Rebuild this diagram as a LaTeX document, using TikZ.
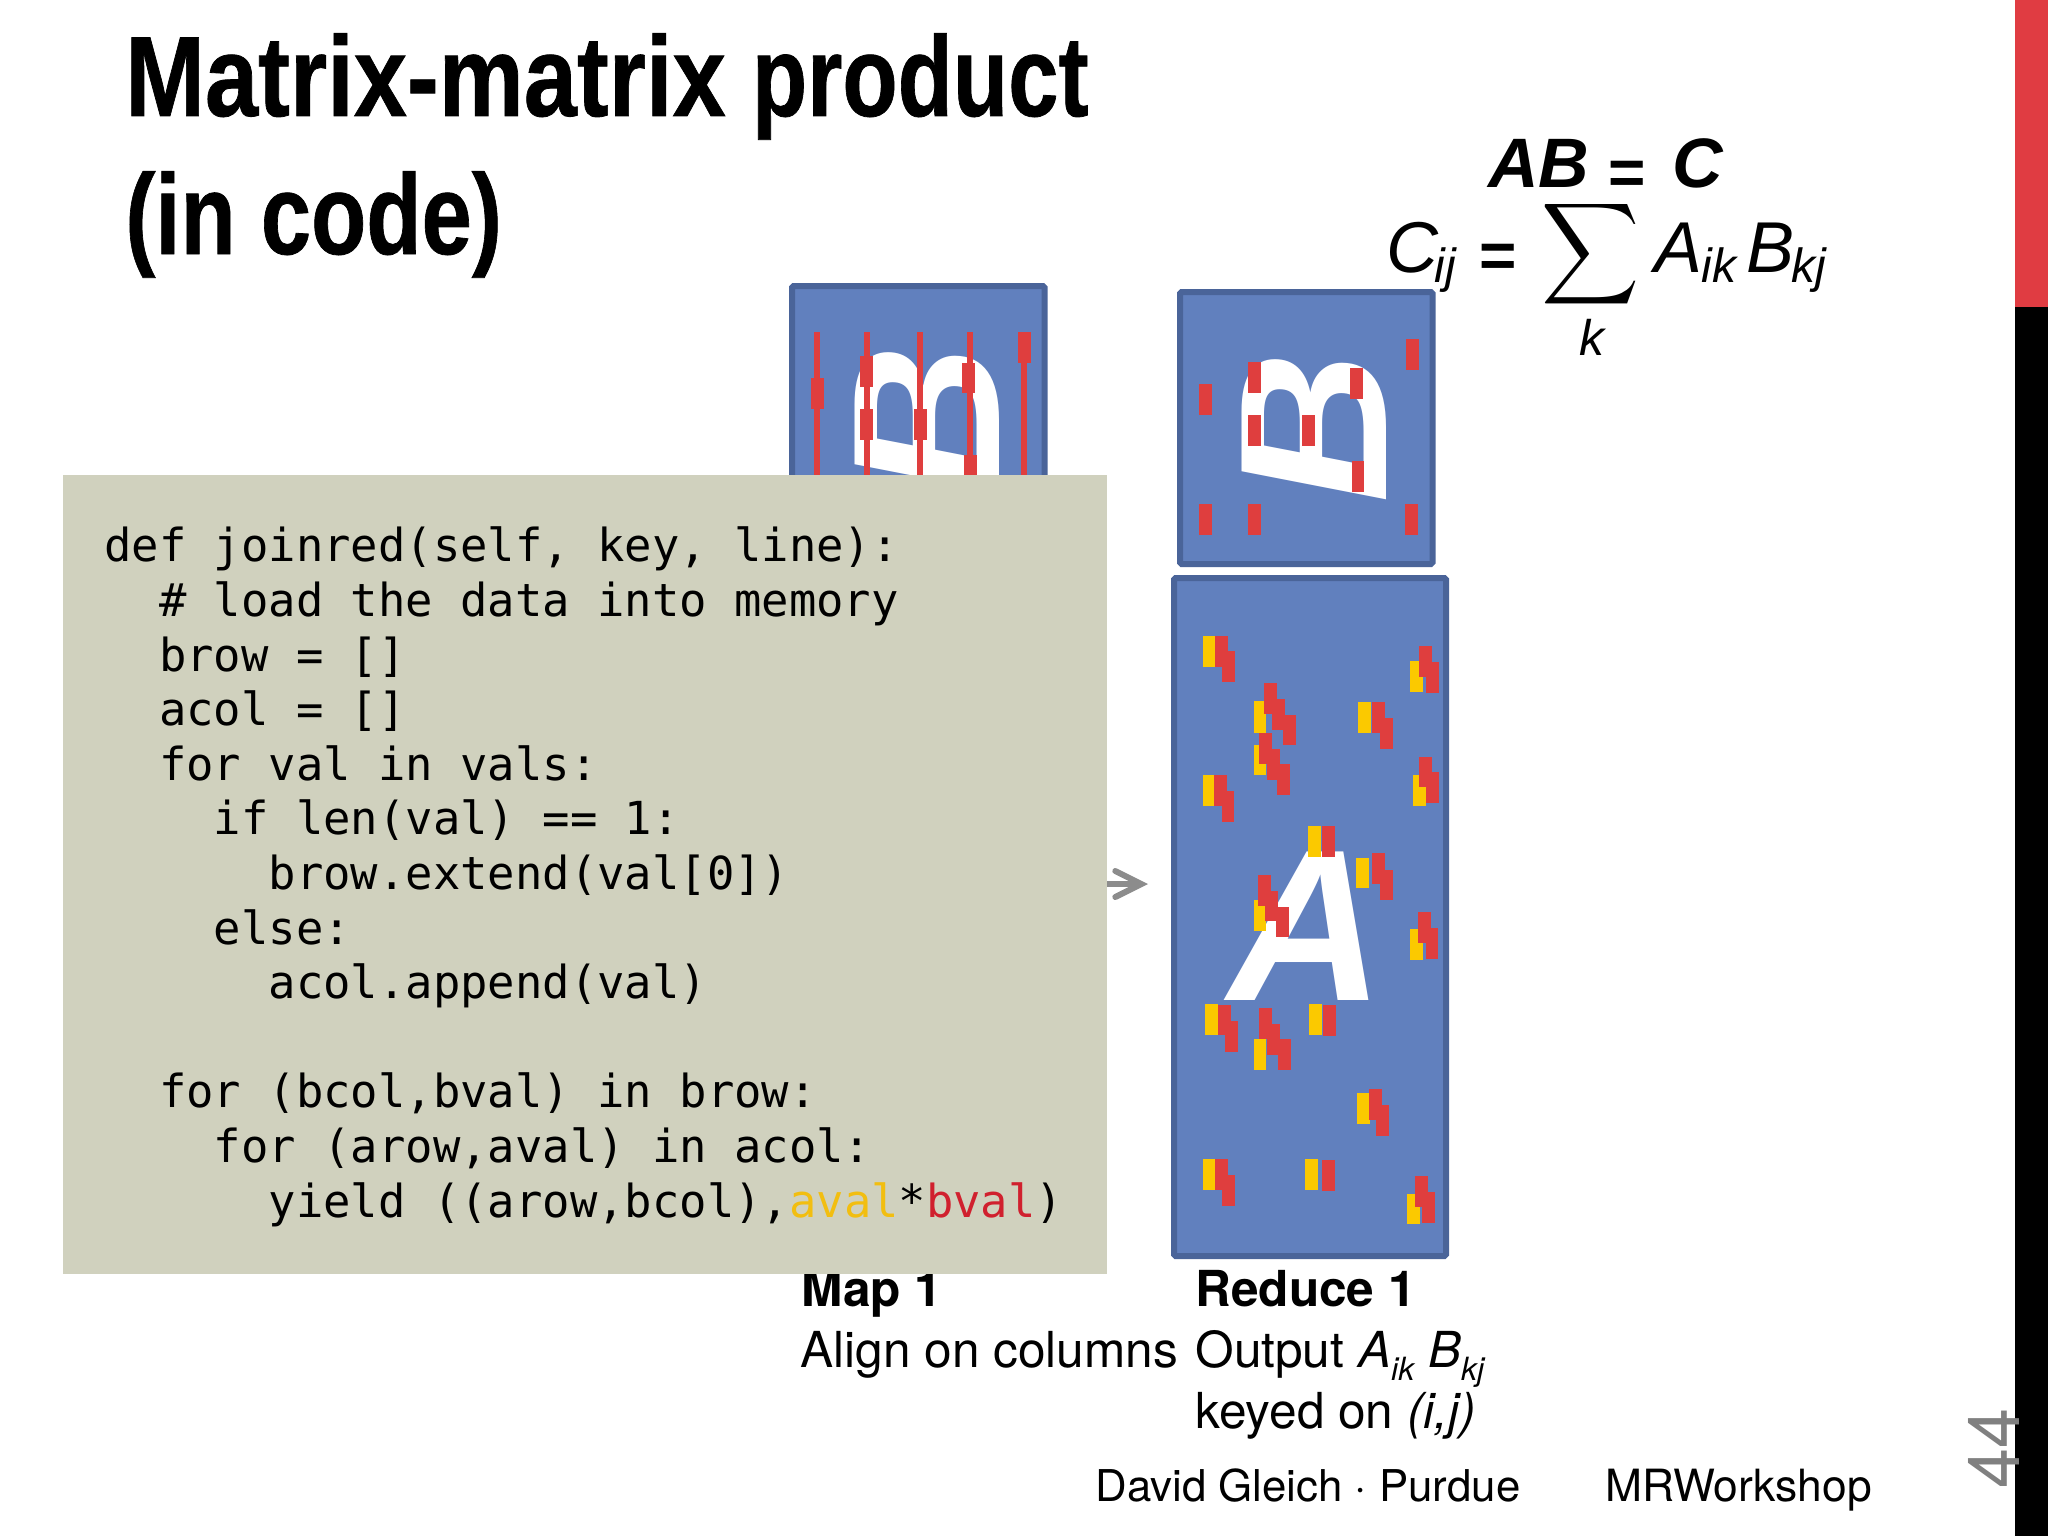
\documentclass[tikz,border=0pt]{standalone}
\usepackage{fontspec}
\usetikzlibrary{arrows.meta}
\setmainfont{TeX Gyre Heros}
\setmonofont{DejaVu Sans Mono}
\newfontfamily\arialfont{Liberation Sans}
\newfontfamily\titlefont[BoldFeatures={FakeBold=0.7}]{Liberation Sans}
\definecolor{boxblue}{HTML}{6180BE}
\definecolor{boxedge}{HTML}{4A6499}
\definecolor{codegray}{HTML}{D0D1BE}
\definecolor{markred}{HTML}{DF3E3E}
\definecolor{markyellow}{HTML}{FBC900}
\definecolor{barred}{HTML}{E03C42}
\definecolor{codeyellow}{HTML}{F2BE10}
\definecolor{codered}{HTML}{D0202E}
\tikzset{
  matbox/.style={draw=boxedge,fill=boxblue,line width=3pt,rounded corners=0.8pt},
  lbl/.style={anchor=base west,inner sep=0pt,font=\fontsize{24.8}{29}\selectfont},
  lblb/.style={anchor=base west,inner sep=0pt,font=\bfseries\fontsize{24.8}{29}\selectfont},
  foot/.style={anchor=base west,inner sep=0pt,font=\fontsize{21.9}{25}\selectfont},
  titletext/.style={anchor=base west,inner sep=0pt,font=\titlefont\bfseries\fontsize{57}{60}\selectfont},
  bigletter/.style={inner sep=0pt,text=white,font=\arialfont\bfseries\itshape\fontsize{105}{105}\selectfont},
  mathi/.style={anchor=base west,inner sep=0pt,font=\arialfont\itshape\fontsize{36}{40}\selectfont},
  mathsub/.style={anchor=base west,inner sep=0pt,font=\arialfont\itshape\fontsize{24}{28}\selectfont},
  mathb/.style={anchor=base west,inner sep=0pt,font=\arialfont\bfseries\itshape\fontsize{35}{40}\selectfont},
  matheq/.style={anchor=base west,inner sep=0pt,font=\arialfont\bfseries\fontsize{32}{40}\selectfont},
}
\newcommand{\Rr}[4]{\fill[markred] (#1,#2) rectangle (#3,#4);}
\newcommand{\Yy}[4]{\fill[markyellow] (#1,#2) rectangle (#3,#4);}
\begin{document}
\begin{tikzpicture}[x=0.5pt,y=-0.5pt]
\useasboundingbox (0,0) rectangle (2048,1536);
\fill[white] (0,0) rectangle (2048,1536);

% title
\node[titletext,xscale=0.824] (t1) at (125,116) {\scalebox{1.018}[1]{Matrix-matrix} \scalebox{0.963}[1]{product}};
\node[titletext,xscale=0.793] (t2) at (125,254) {(in code)};

% matrices
\draw[matbox] (792,286) rectangle (1044.5,1200);
\node[bigletter,rotate=90] (bleft) at (927.5,421) {B};
\begin{scope}[shift={(760,260)},x=0.2232pt,y=-0.1667pt]
  \foreach \xx in {128,239,358,470,592} {\fill[markred] (\xx-7,217) rectangle (\xx+7,700);}
  \Rr{114}{355}{143}{447}\Rr{225}{288}{254}{380}\Rr{225}{447}{254}{540}
  \Rr{346}{447}{375}{540}\Rr{453}{308}{482}{400}\Rr{456}{585}{485}{700}\Rr{578}{217}{607}{310}
\end{scope}

\draw[matbox] (1180,292) rectangle (1432.5,564);
\node[bigletter,rotate=90] (bright) at (1314.5,427.5) {B};
\begin{scope}[shift={(760,260)},x=0.2232pt,y=-0.1667pt]
  \Rr{983}{372}{1012}{466}\Rr{1094}{306}{1123}{398}\Rr{1094}{465}{1123}{558}
  \Rr{1215}{465}{1244}{558}\Rr{1322}{325}{1351}{418}\Rr{1325}{604}{1354}{697}
  \Rr{1447}{236}{1476}{329}\Rr{983}{732}{1012}{825}\Rr{1094}{732}{1123}{825}\Rr{1444}{732}{1473}{825}
\end{scope}

\draw[matbox] (1174,578) rectangle (1446,1256);
\node[bigletter,font=\arialfont\bfseries\itshape\fontsize{108}{108}\selectfont] (aletter) at (1306,926) {A};
\begin{scope}[shift={(1100,560)},x=0.1667pt,y=-0.2296pt]
  \Yy{308}{165}{345}{232}\Rr{345}{165}{383}{232}\Rr{367}{199}{405}{266}
  \Yy{930}{220}{968}{287}\Rr{956}{187}{995}{254}\Rr{978}{222}{1017}{289}
  \Yy{461}{308}{499}{376}\Rr{492}{267}{531}{335}\Rr{516}{303}{555}{370}\Rr{550}{337}{589}{403}
  \Yy{774}{309}{812}{376}\Rr{817}{310}{856}{377}\Rr{840}{344}{879}{411}
  \Yy{461}{402}{499}{468}\Rr{478}{377}{517}{444}\Rr{501}{411}{540}{479}\Rr{532}{445}{571}{512}
  \Yy{310}{469}{343}{536}\Rr{343}{469}{380}{536}\Rr{365}{504}{403}{571}
  \Yy{940}{469}{978}{536}\Rr{956}{428}{995}{495}\Rr{979}{462}{1017}{529}
  \Yy{624}{580}{663}{647}\Rr{666}{580}{704}{647}
  \Yy{769}{648}{807}{714}\Rr{817}{639}{856}{706}\Rr{840}{674}{879}{740}
  \Yy{461}{741}{499}{808}\Rr{473}{686}{512}{753}\Rr{496}{720}{535}{787}\Rr{528}{755}{567}{821}
  \Yy{931}{803}{970}{870}\Rr{954}{767}{993}{834}\Rr{977}{801}{1015}{868}
  \Yy{316}{967}{354}{1034}\Rr{354}{968}{392}{1035}\Rr{376}{1004}{414}{1071}
  \Yy{461}{1043}{499}{1110}\Rr{478}{975}{517}{1042}\Rr{501}{1010}{540}{1077}\Rr{533}{1044}{572}{1111}
  \Yy{627}{967}{665}{1034}\Rr{670}{970}{709}{1037}
  \Yy{772}{1161}{810}{1228}\Rr{806}{1152}{845}{1219}\Rr{828}{1187}{867}{1254}
  \Yy{308}{1304}{345}{1371}\Rr{345}{1304}{383}{1371}\Rr{367}{1339}{405}{1406}
  \Yy{616}{1304}{654}{1371}\Rr{666}{1307}{704}{1374}
  \Yy{922}{1380}{960}{1447}\Rr{944}{1342}{983}{1409}\Rr{967}{1376}{1005}{1443}
\end{scope}

% arrow behind the code panel
\coordinate (arrowstart) at (1090,884);
\coordinate (arrowend) at (1148,884);
\draw[color=black!45,line width=3pt,-{Straight Barb[length=13pt,width=13pt,line cap=round]}] (arrowstart) -- (arrowend);

% labels
\node[lblb] (map) at (801.5,1306) {Map 1};
\node[lblb] (reduce) at (1195,1306) {Reduce 1};
\node[lbl] (align) at (800,1367) {Align on columns};
\node[lbl] (output) at (1195,1367) {Output \textit{A\raisebox{-0.5ex}{\fontsize{16}{16}\selectfont ik}} \textit{B\raisebox{-0.5ex}{\fontsize{16}{16}\selectfont kj}}};
\node[lbl] (keyed) at (1195,1428) {keyed on \textit{(i,j)}};
\node[foot] (david) at (1095,1501) {David Gleich · Purdue};
\node[foot,font=\fontsize{22.2}{25}\selectfont] (mrw) at (1605,1501) {MRWorkshop};

% code panel
\node[anchor=north west,inner sep=0pt,minimum width=522pt,minimum height=399.5pt,fill=codegray] (panel) at (63,475) {};
\node[anchor=base west,inner sep=0pt,align=left,font=\ttfamily\fontsize{22.75}{27.3}\selectfont] (code) at (104,1217) {%
def joinred(self, key, line):\\
~~\# load the data into memory\\
~~brow = []\\
~~acol = []\\
~~for val in vals:\\
~~~~if len(val) == 1:\\
~~~~~~brow.extend(val[0])\\
~~~~else:\\
~~~~~~acol.append(val)\\
~\\
~~for (bcol,bval) in brow:\\
~~~~for (arow,aval) in acol:\\
~~~~~~yield ((arow,bcol),\textcolor{codeyellow}{aval}*\textcolor{codered}{bval})};

% formulae
\node[mathb] (ab) at (1488,187) {AB};
\node[matheq] (eq1) at (1608,194) {=};
\node[mathb] (cc) at (1672,187) {C};
\node[mathi] (cij) at (1386,272) {C};
\node[mathsub] (ij) at (1434,282) {ij};
\node[matheq] (eq2) at (1479,277) {=};
\node[inner sep=0pt,xscale=3.4,yscale=3.55] (sum) at (1590.5,254) {$\displaystyle\sum$};
\node[mathi,font=\arialfont\itshape\fontsize{25}{28}\selectfont] (kk) at (1579,355) {k};
\node[mathi] (aik) at (1654,272) {A};
\node[mathsub] (ik) at (1701,282) {ik};
\node[mathi] (bkj) at (1746,272) {B};
\node[mathsub] (kj) at (1791,282) {kj};

% side bar and page number
\fill[barred] (2015,0) rectangle (2048,307);
\fill[black] (2015,307) rectangle (2048,1536);
\node[inner sep=0pt,text=black!50,rotate=90,font=\fontsize{36}{36}\selectfont] (pagenum) at (1994,1448.5) {44};
\end{tikzpicture}
\end{document}
